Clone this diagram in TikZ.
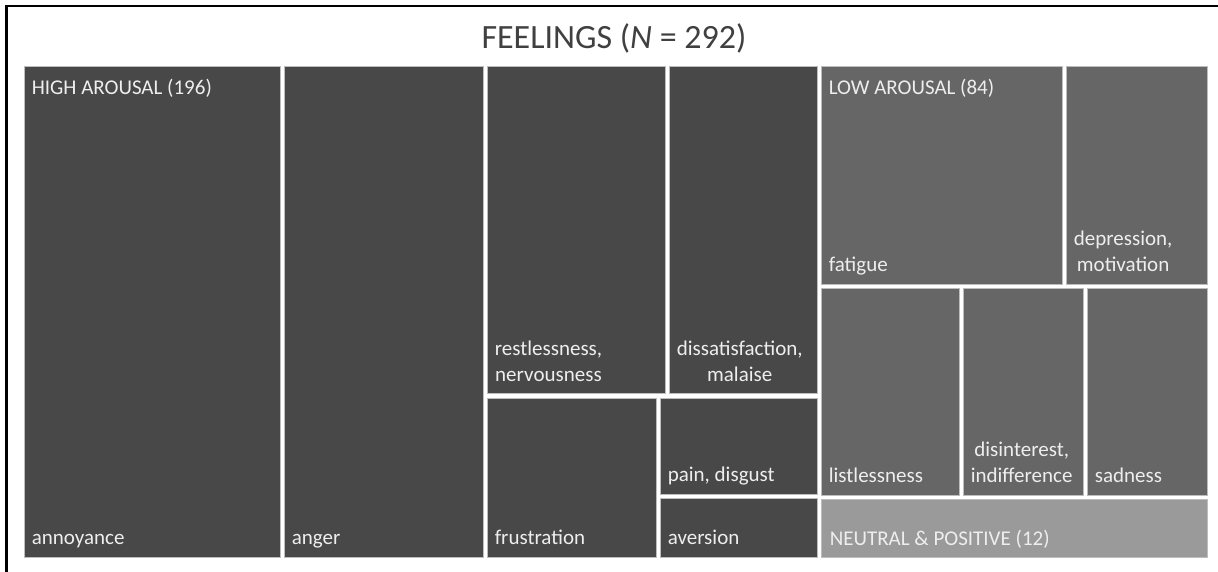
\documentclass[tikz,border=0pt]{standalone}
\usepackage{fontspec}
\setmainfont{Carlito}
\usepackage{xcolor}
\usetikzlibrary{positioning,fit}
\definecolor{high}{HTML}{484848}
\definecolor{low}{HTML}{666666}
\definecolor{neutral}{HTML}{9A9A9A}
\definecolor{tiletext}{HTML}{EEEEEE}
\definecolor{edge}{HTML}{BDBDBD}
\definecolor{headgray}{HTML}{404040}

\begin{document}
\begin{tikzpicture}[
  x=1pt,y=-1pt,
  tile/.style={rectangle,inner sep=0pt,draw=edge,line width=0.8pt,fill=#1},
  lab/.style={inner sep=0pt,align=center,text=tiletext,font=\fontsize{21}{26}\selectfont,execute at end node=\strut},
  grouplab/.style={inner sep=0pt,anchor=base west,text=tiletext,font=\fontsize{21}{26}\selectfont},
  frame/.style={line width=2.7pt,draw=black}
]
\useasboundingbox (0,0) rectangle (1218,572);
\draw[frame] (6.5,572) |- (1218,6);
\node[anchor=base,text=headgray,font=\fontsize{34}{40}\selectfont] (head) at (614,49) {FEELINGS (\textit{N} = 292)};

% high arousal
\node[tile=high,fit={(24,66) (280,557)}] (annoy) {};
\node[tile=high,fit={(284,66) (483,557)}] (anger) {};
\node[tile=high,fit={(487,66) (665,393)}] (restless) {};
\node[tile=high,fit={(669,66) (817,393)}] (dissat) {};
\node[tile=high,fit={(487,398) (656,557)}] (frustr) {};
\node[tile=high,fit={(660,398) (817,494)}] (pain) {};
\node[tile=high,fit={(660,498) (817,557)}] (aversion) {};
% low arousal
\node[tile=low,fit={(821,66) (1062,284)}] (fatigue) {};
\node[tile=low,fit={(1066,66) (1207,284)}] (depress) {};
\node[tile=low,fit={(821,288) (959,495)}] (listless) {};
\node[tile=low,fit={(963,288) (1083,495)}] (disint) {};
\node[tile=low,fit={(1087,288) (1207,495)}] (sadness) {};
% neutral and positive
\node[tile=neutral,fit={(821,499) (1207,557)}] (neutral) {};

\node[grouplab] (highlab) at ([shift={(8pt,-29pt)}]annoy.north west) {HIGH AROUSAL (196)};
\node[grouplab] (lowlab) at ([shift={(8pt,-29pt)}]fatigue.north west) {LOW AROUSAL (84)};

\node[lab,above right=5pt and 8pt of annoy.south west] (annoylab) {annoyance};
\node[lab,above right=5pt and 8pt of anger.south west] (angerlab) {anger};
\node[lab,above right=4pt and 8pt of restless.south west] (restlesslab) {restlessness,\\nervousness};
\node[lab,above right=4pt and 8pt of dissat.south west] (dissatlab) {dissatisfaction,\\malaise};
\node[lab,above right=5pt and 8pt of frustr.south west] (frustrlab) {frustration};
\node[lab,above right=5pt and 8pt of pain.south west] (painlab) {pain, disgust};
\node[lab,above right=5pt and 8pt of aversion.south west] (aversionlab) {aversion};
\node[lab,above right=5pt and 8pt of fatigue.south west] (fatiguelab) {fatigue};
\node[lab,above right=5pt and 8pt of depress.south west] (depresslab) {depression,\\motivation};
\node[lab,above right=5pt and 8pt of listless.south west] (listlesslab) {listlessness};
\node[lab,above right=5pt and 8pt of disint.south west] (disintlab) {disinterest,\\indifference};
\node[lab,above right=5pt and 8pt of sadness.south west] (sadnesslab) {sadness};
\node[lab,above right=4pt and 9pt of neutral.south west] (neutrallab) {NEUTRAL \& POSITIVE (12)};
\end{tikzpicture}
\end{document}
